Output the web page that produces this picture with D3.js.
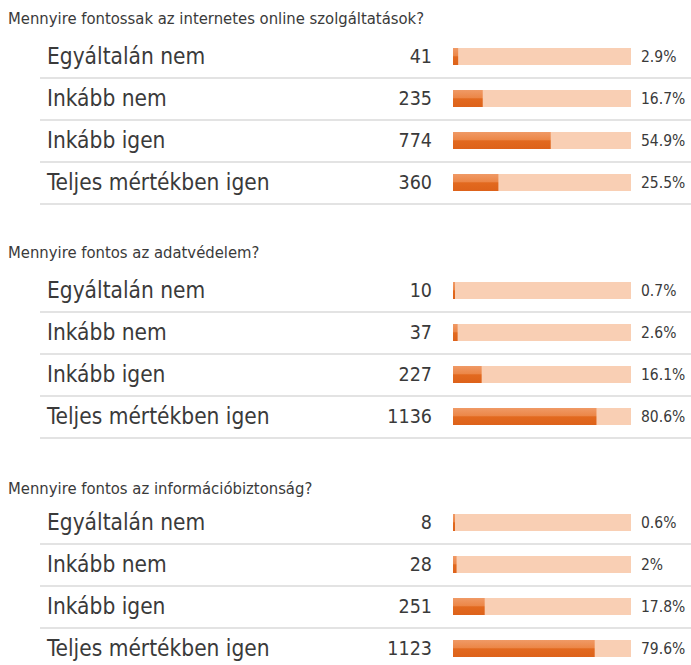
<!DOCTYPE html>
<html>
<head>
<meta charset="utf-8">
<script src="https://cdn.jsdelivr.net/npm/d3@7"></script>
<style>
  html, body { margin: 0; padding: 0; background: #fff; }
  svg { display: block; }
</style>
</head>
<body>
<svg id="chart" width="691" height="665"></svg>
<script>
// Survey answers: counts and shares per question
const questions = [
  "Mennyire fontossak az internetes online szolgáltatások?",
  "Mennyire fontos az adatvédelem?",
  "Mennyire fontos az információbiztonság?"
];
const categories = ["Egyáltalán nem", "Inkább nem", "Inkább igen", "Teljes mértékben igen"];

const countsOnline   = [41, 235, 774, 360];
const shareOnline    = [2.9, 16.7, 54.9, 25.5];
const countsPrivacy  = [10, 37, 227, 1136];
const sharePrivacy   = [0.7, 2.6, 16.1, 80.6];
const countsSecurity = [8, 28, 251, 1123];
const shareSecurity  = [0.6, 2, 17.8, 79.6];

const groups = [
  { title: questions[0], counts: countsOnline,   shares: shareOnline },
  { title: questions[1], counts: countsPrivacy,  shares: sharePrivacy },
  { title: questions[2], counts: countsSecurity, shares: shareSecurity }
];

// Layout
const W = 691, H = 665;
const titleY = [18, 252, 488];
const firstRowY = [56.5, 290.5, 522.5];
const rowStep = 42;
const barH = 17;
const font = "'DejaVu Sans Condensed', 'DejaVu Sans', Verdana, sans-serif";
const textColor = "#3a3a3a";

const svg = d3.select("#chart");

const x = d3.scaleLinear().domain([0, 100]).range([453, 631]);

const defs = svg.append("defs");
const grad = defs.append("linearGradient")
  .attr("id", "barFill").attr("x1", 0).attr("y1", 0).attr("x2", 0).attr("y2", 1);
grad.append("stop").attr("offset", "0%").attr("stop-color", "#f09a66");
grad.append("stop").attr("offset", "45%").attr("stop-color", "#ec8748");
grad.append("stop").attr("offset", "52%").attr("stop-color", "#e2691f");
grad.append("stop").attr("offset", "100%").attr("stop-color", "#dd621a");

const fmtPct = d => d3.format("~g")(d) + "%";

groups.forEach((g, gi) => {
  const grp = svg.append("g");

  grp.append("text")
    .attr("x", 8).attr("y", titleY[gi])
    .attr("dy", "0.35em")
    .attr("font-family", font).attr("font-size", 16.5)
    .attr("fill", textColor)
    .text(g.title);

  const rows = grp.selectAll("g.row")
    .data(categories.map((c, i) => ({ cat: c, count: g.counts[i], share: g.shares[i], i })))
    .join("g")
    .attr("class", "row")
    .attr("transform", d => `translate(0,${firstRowY[gi] + d.i * rowStep})`);

  // separator below each row
  rows.append("line")
    .attr("x1", 40).attr("x2", W)
    .attr("y1", 21.5).attr("y2", 21.5)
    .attr("stroke", "#e3e3e3").attr("stroke-width", 2);

  rows.append("text")
    .attr("x", 47).attr("y", 0).attr("dy", "0.35em")
    .attr("font-family", font).attr("font-size", 22.5)
    .attr("fill", textColor)
    .text(d => d.cat);

  rows.append("text")
    .attr("x", 432).attr("y", 0).attr("dy", "0.35em")
    .attr("text-anchor", "end")
    .attr("font-family", font).attr("font-size", 19.5)
    .attr("fill", textColor)
    .text(d => d.count);

  // track
  rows.append("rect")
    .attr("x", x(0)).attr("y", -barH / 2)
    .attr("width", x(100) - x(0)).attr("height", barH)
    .attr("fill", "#f9cfb4");

  // value bar
  rows.append("rect")
    .attr("x", x(0)).attr("y", -barH / 2)
    .attr("width", d => Math.max(2, x(d.share) - x(0))).attr("height", barH)
    .attr("fill", "url(#barFill)");

  rows.append("text")
    .attr("x", 641).attr("y", 0).attr("dy", "0.35em")
    .attr("font-family", font).attr("font-size", 15.5)
    .attr("fill", textColor)
    .text(d => fmtPct(d.share));
});
</script>
</body>
</html>
